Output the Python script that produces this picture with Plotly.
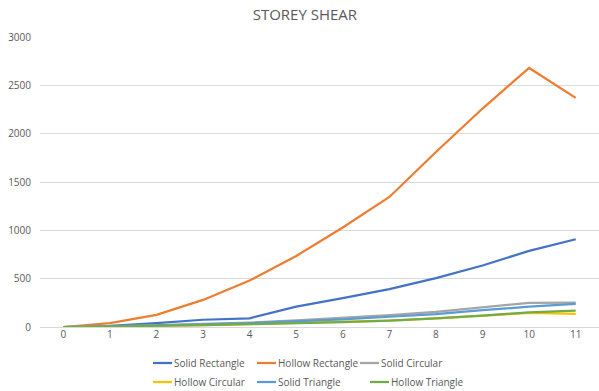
import plotly.graph_objects as go

storeys = list(range(12))

solid_rectangle = [0, 12, 40, 75, 90, 210, 298, 392, 505, 636, 788, 908]
hollow_rectangle = [0, 40, 125, 280, 480, 735, 1030, 1345, 1810, 2260, 2680, 2370]
solid_circular = [0, 8, 18, 32, 45, 68, 93, 124, 156, 200, 250, 252]
hollow_circular = [0, 5, 12, 20, 30, 40, 50, 66, 90, 118, 145, 135]
solid_triangle = [0, 7, 16, 28, 40, 58, 80, 106, 134, 174, 210, 238]
hollow_triangle = [0, 5, 12, 20, 30, 38, 50, 66, 88, 118, 152, 170]

series_names = ["Solid Rectangle", "Hollow Rectangle", "Solid Circular",
                "Hollow Circular", "Solid Triangle", "Hollow Triangle"]
series_values = [solid_rectangle, hollow_rectangle, solid_circular,
                 hollow_circular, solid_triangle, hollow_triangle]
series_colors = ["#4472C4", "#ED7D31", "#A5A5A5", "#FFC000", "#5B9BD5", "#70AD47"]

W, H = 599, 391
M_L, M_R, M_T, M_B = 40, 0, 37, 64
plot_w = W - M_L - M_R
plot_h = H - M_T - M_B

font = "Open Sans, Liberation Sans, sans-serif"
grey = "#595959"

fig = go.Figure()
for name, vals, color in zip(series_names, series_values, series_colors):
    fig.add_trace(go.Scatter(
        x=storeys, y=vals, name=name, mode="lines",
        line=dict(color=color, width=2.25), showlegend=False,
    ))

# Two-row legend below the axis: short colour key followed by the series name
legend_slots = [(153, 363), (257, 363), (360, 363),
                (153, 382), (257, 382), (370, 382)]
key_len = 19
shapes, annotations = [], []
for (px, py), name, color in zip(legend_slots, series_names, series_colors):
    x0 = (px - M_L) / plot_w
    x1 = (px + key_len - M_L) / plot_w
    yp = (H - M_B - py) / plot_h
    shapes.append(dict(type="line", xref="paper", yref="paper", x0=x0, x1=x1,
                       y0=yp, y1=yp, line=dict(color=color, width=2.25)))
    annotations.append(dict(text=name, xref="paper", yref="paper", x=x1, y=yp,
                            xanchor="left", yanchor="middle", showarrow=False,
                            xshift=0, font=dict(family=font, size=10, color=grey)))

fig.update_layout(
    width=W, height=H,
    margin=dict(l=M_L, r=M_R, t=M_T, b=M_B),
    paper_bgcolor="white", plot_bgcolor="white",
    showlegend=False,
    title=dict(text="STOREY SHEAR", x=0.509, xanchor="center", y=0.962, yanchor="middle",
               font=dict(family=font, size=15, color=grey)),
    xaxis=dict(range=[-0.5, 11.5], tickmode="array", tickvals=storeys,
               ticktext=[str(s) for s in storeys], showgrid=False, zeroline=False,
               showline=False, ticks="", tickfont=dict(family=font, size=10, color=grey),
               fixedrange=True),
    yaxis=dict(range=[0, 3000], dtick=500, showgrid=True, gridcolor="#D9D9D9",
               gridwidth=1, zeroline=True, zerolinecolor="#D9D9D9", zerolinewidth=1,
               showline=False, ticks="", ticklabelstandoff=8,
               tickfont=dict(family=font, size=10, color=grey), fixedrange=True),
    shapes=shapes,
    annotations=annotations,
)

fig.write_html("out.html")
